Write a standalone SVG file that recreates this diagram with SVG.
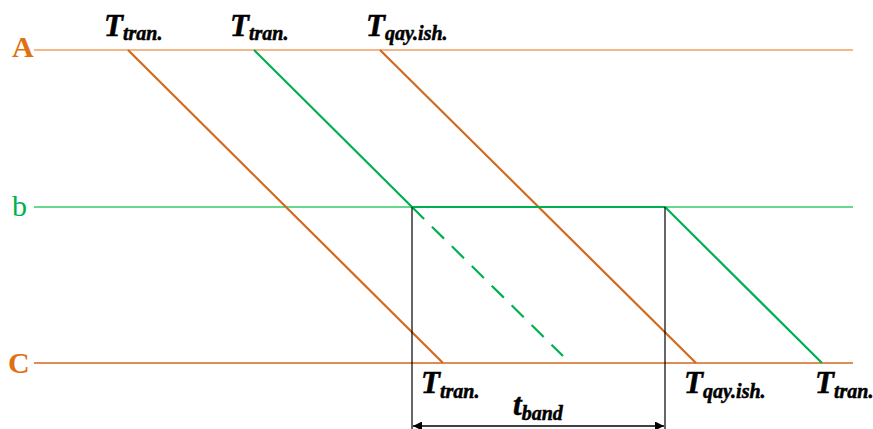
<svg xmlns="http://www.w3.org/2000/svg" width="873" height="429" viewBox="0 0 873 429">
<style>
.T{font-family:"Liberation Serif",serif;font-weight:bold;font-style:italic;font-size:31px;fill:#000;stroke:#000;stroke-width:0.5}
.s{font-size:20px}
.or{stroke:#d2691e;stroke-width:2.2;fill:none}
.gr{stroke:#00b050;stroke-width:2.2;fill:none}
.lbl{font-family:"Liberation Serif",serif;font-size:30px}
</style>
<defs>
<marker id="ah" viewBox="0 0 10 10" refX="10" refY="5" markerWidth="12" markerHeight="9" markerUnits="userSpaceOnUse" orient="auto-start-reverse">
<path d="M0,0 L10,5 L0,10 z" fill="#000"/>
</marker>
</defs>
<g id="lineA">
<line x1="34" y1="50" x2="853" y2="50" stroke="#f0a060" stroke-width="1.3"/>
<text class="lbl" x="12" y="57" font-weight="bold" fill="#e07010">A</text>
</g>
<g id="lineB">
<line x1="34" y1="207" x2="853" y2="207" stroke="#33cc66" stroke-width="1.3"/>
<text class="lbl" x="12" y="216" fill="#00b050">b</text>
</g>
<g id="lineC">
<line x1="34" y1="363" x2="853" y2="363" stroke="#d2691e" stroke-width="1.3"/>
<text class="lbl" x="8" y="373" font-weight="bold" fill="#e07010">C</text>
</g>
<g id="connectors">
<line class="or" x1="128" y1="50" x2="443" y2="363"/>
<line class="or" x1="380" y1="50" x2="696" y2="363"/>
<line class="gr" x1="254" y1="50" x2="412" y2="207"/>
<line class="gr" x1="412" y1="207" x2="665" y2="207" stroke-width="3.2"/>
<line class="gr" x1="665" y1="207" x2="822" y2="363"/>
<line class="gr" x1="412" y1="207" x2="563" y2="356" stroke-dasharray="17,11"/>
<line x1="412" y1="207" x2="412" y2="429" stroke="#000" stroke-width="1.2"/>
<line x1="665" y1="207" x2="665" y2="429" stroke="#000" stroke-width="1.2"/>
<line x1="413" y1="426" x2="664" y2="426" stroke="#000" stroke-width="1.5" marker-start="url(#ah)" marker-end="url(#ah)"/>
</g>
<g id="labels">
<text class="T" x="104" y="36">T<tspan class="s" dy="4">tran.</tspan></text>
<text class="T" x="230" y="36">T<tspan class="s" dy="4">tran.</tspan></text>
<text class="T" x="366" y="36">T<tspan class="s" dy="4">qay.ish.</tspan></text>
<text class="T" x="421" y="393">T<tspan class="s" dy="5">tran.</tspan></text>
<text class="T" x="684" y="393">T<tspan class="s" dy="5">qay.ish.</tspan></text>
<text class="T" x="815" y="393">T<tspan class="s" dy="5">tran.</tspan></text>
<text class="T" x="513" y="415">t<tspan class="s" dy="5">band</tspan></text>
</g>
</svg>
